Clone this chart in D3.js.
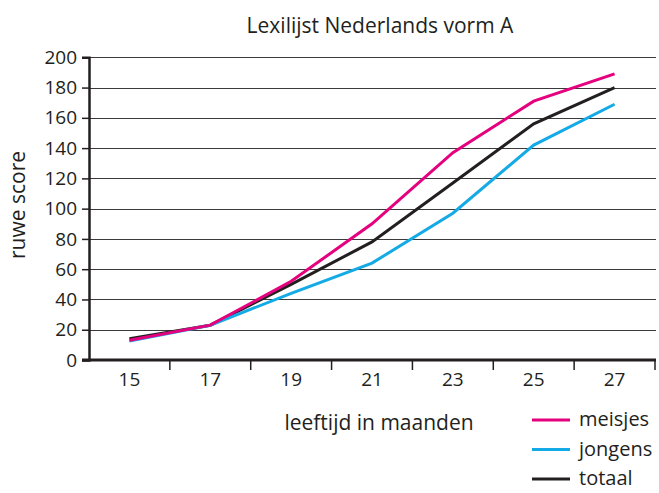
<!DOCTYPE html>
<head>
  <meta charset="utf-8">
  <title>Lexilijst Nederlands vorm A</title>
  <style>
    body { margin: 0; background: #fff; }
    text { font-family: "Open Sans", sans-serif; fill: #231f20; }
  </style>
</head>
<body>
<svg width="659" height="493"></svg>

<script src="https://cdn.jsdelivr.net/npm/d3@7"></script>
<script>

  // leeftijd in maanden
  const months = [15, 17, 19, 21, 23, 25, 27];
  const yTicks = [0, 20, 40, 60, 80, 100, 120, 140, 160, 180, 200];

  // ruwe score per groep
  const meisjes = [13, 23, 52, 90, 137, 171, 189];
  const jongens = [12.5, 23, 44, 64, 97, 142, 169];
  const totaal  = [14, 23, 50, 78, 117, 156, 180];

  const seriesNames = ["meisjes", "jongens", "totaal"];
  const seriesColors = ["#e5007d", "#13aae6", "#231f20"];

  const svg = d3.select("svg");

  const x = d3.scaleBand()
    .domain(months)
    .range([89, 655])
    .paddingInner(0)
    .paddingOuter(0);

  const y = d3.scaleLinear()
    .domain([0, 200])
    .range([360, 57.3]);

  // gridlines
  svg.append("g")
    .selectAll("line")
    .data(yTicks.slice(1))
    .enter().append("line")
    .attr("x1", 89)
    .attr("x2", 656)
    .attr("y1", d => Math.round(y(d)) + 0.5)
    .attr("y2", d => Math.round(y(d)) + 0.5)
    .attr("stroke", "#3a3a3a")
    .attr("stroke-width", 1.2);

  // y axis
  const yAxis = svg.append("g")
    .attr("transform", "translate(89,0)")
    .call(d3.axisLeft(y).tickValues(yTicks).tickSize(7).tickPadding(5));
  yAxis.select(".domain").attr("stroke", "#231f20").attr("stroke-width", 2.5);
  yAxis.selectAll(".tick line").attr("stroke", "#231f20").attr("stroke-width", 1.5);
  yAxis.selectAll(".tick text")
    .attr("font-size", 19)
    .attr("font-family", "'Open Sans', sans-serif")
    .attr("fill", "#231f20");

  // x axis: labels in the middle of each band, ticks at band edges
  const xAxis = svg.append("g")
    .attr("transform", "translate(0,360)")
    .call(d3.axisBottom(x).tickSize(0).tickPadding(13));
  xAxis.select(".domain").remove();
  xAxis.selectAll(".tick text")
    .attr("font-size", 19)
    .attr("font-family", "'Open Sans', sans-serif")
    .attr("fill", "#231f20");

  const edges = months.map(m => x(m)).concat([x(months[months.length - 1]) + x.bandwidth()]);
  svg.append("g")
    .selectAll("line")
    .data(edges.slice(1))
    .enter().append("line")
    .attr("x1", d => d)
    .attr("x2", d => d)
    .attr("y1", 360)
    .attr("y2", 370)
    .attr("stroke", "#231f20")
    .attr("stroke-width", 1.5);

  svg.append("line")
    .attr("x1", 82)
    .attr("x2", 656)
    .attr("y1", 360)
    .attr("y2", 360)
    .attr("stroke", "#231f20")
    .attr("stroke-width", 3);

  // lines
  const line = d3.line()
    .x((d, i) => x(months[i]) + x.bandwidth() / 2)
    .y(d => y(d));

  const data = [meisjes, jongens, totaal];
  // totaal first so the coloured lines sit on top of it
  const drawOrder = [2, 1, 0];
  drawOrder.forEach(i => {
    svg.append("path")
      .datum(data[i])
      .attr("fill", "none")
      .attr("stroke", seriesColors[i])
      .attr("stroke-width", 3)
      .attr("d", line);
  });

  // title
  svg.append("text")
    .attr("x", 380)
    .attr("y", 33)
    .attr("text-anchor", "middle")
    .attr("font-size", 21)
    .text("Lexilijst Nederlands vorm A");

  // axis titles
  svg.append("text")
    .attr("transform", "translate(25,205) rotate(-90)")
    .attr("text-anchor", "middle")
    .attr("font-size", 21)
    .text("ruwe score");

  svg.append("text")
    .attr("x", 379)
    .attr("y", 430)
    .attr("text-anchor", "middle")
    .attr("font-size", 21)
    .text("leeftijd in maanden");

  // legend
  const legend = svg.append("g")
    .selectAll("g")
    .data(seriesNames)
    .enter().append("g")
    .attr("transform", (d, i) => "translate(532," + (420 + i * 29.5) + ")");

  legend.append("line")
    .attr("x1", 0)
    .attr("x2", 38)
    .attr("stroke", (d, i) => seriesColors[i])
    .attr("stroke-width", 3);

  legend.append("text")
    .attr("x", 47)
    .attr("y", 0)
    .attr("dy", "0.32em")
    .attr("font-size", 20)
    .text(d => d);

</script>
</body>
